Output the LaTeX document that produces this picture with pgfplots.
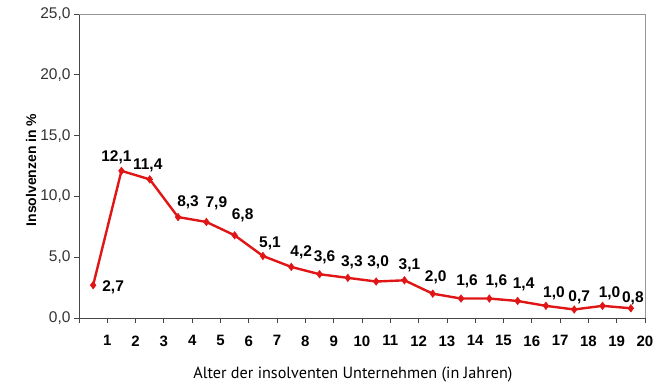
\documentclass[border=0pt]{standalone}
\usepackage{pgfplots}
\usepackage{pgfplotstable}
\pgfplotsset{compat=1.18}
\usepackage{fontspec}
\setmainfont{Liberation Sans}
\newfontfamily\labelfont{PT Sans}
\definecolor{linered}{RGB}{224,22,22}
\definecolor{boxgray}{RGB}{150,150,150}
\definecolor{axisgray}{RGB}{70,70,70}
\pgfplotstableread{
x y lbl dx dy
0.5 2.7 2,7 20 -2
1.5 12.1 12,1 -5 14
2.5 11.4 11,4 -2 14
3.5 8.3 8,3 10 15
4.5 7.9 7,9 10 19
5.5 6.8 6,8 8 20
6.5 5.1 5,1 7 13
7.5 4.2 4,2 10 15
8.5 3.6 3,6 5 17
9.5 3.3 3,3 4 16
10.5 3.0 3,0 2 19
11.5 3.1 3,1 5 15
12.5 2.0 2,0 3 16
13.5 1.6 1,6 6 17
14.5 1.6 1,6 7 17
15.5 1.4 1,4 6 17
16.5 1.0 1,0 8 13
17.5 0.7 0,7 5 12
18.5 1.0 1,0 7 13
19.5 0.8 0,8 2 10
}\data
\begin{document}
\begin{tikzpicture}
\path[use as bounding box] (-79pt,-71pt) rectangle (580pt,318pt);
\begin{axis}[
  at={(0,0)}, anchor=south west,
  scale only axis, width=566pt, height=304pt,
  xmin=0, xmax=20, ymin=0, ymax=25,
  axis x line*=bottom, axis y line*=left,
  axis line style={axisgray, line width=0.8pt},
  xtick={0,...,20},
  xticklabels={,1,2,3,4,5,6,7,8,9,10,11,12,13,14,15,16,17,18,19,20},
  ytick={0,5,...,25},
  tick align=outside, major tick length=5pt,
  tick style={axisgray, line width=0.8pt},
  xticklabel style={font=\fontsize{15}{17}\selectfont\bfseries, yshift=-9pt},
  yticklabel style={font=\fontsize{15.5}{17}\selectfont, text=black!80},
  /pgf/number format/.cd, fixed, fixed zerofill, precision=1, use comma, assume math mode=true,
  /pgfplots/.cd,
  xlabel={Alter der insolventen Unternehmen (in Jahren)},
  xlabel style={font=\labelfont\fontsize{16.2}{18}\selectfont, at={(axis description cs:0.484,0)}, anchor=center, yshift=-57pt},
  ylabel={Insolvenzen in \%},
  ylabel style={font=\fontsize{14}{16}\selectfont\bfseries, at={(axis description cs:-0.0848,0.487)}, anchor=center, rotate=0},
  clip=false,
]
\draw[boxgray, line width=1pt] (rel axis cs:0,1) -- (rel axis cs:1,1) -- (rel axis cs:1,0);
\addplot[linered, line width=2.4pt, mark=diamond*, mark size=3.8pt, mark options={fill=linered, line width=0.5pt},
  nodes near coords, point meta=explicit symbolic,
  visualization depends on={\thisrow{dx}\as\dx},
  visualization depends on={\thisrow{dy}\as\dy},
  every node near coord/.append style={anchor=center, xshift=\dx pt, yshift=\dy pt, text=black, font=\fontsize{15.5}{17}\selectfont\bfseries, inner sep=0pt}
] table[x=x, y=y, meta=lbl] {\data};
\end{axis}
\end{tikzpicture}
\end{document}
